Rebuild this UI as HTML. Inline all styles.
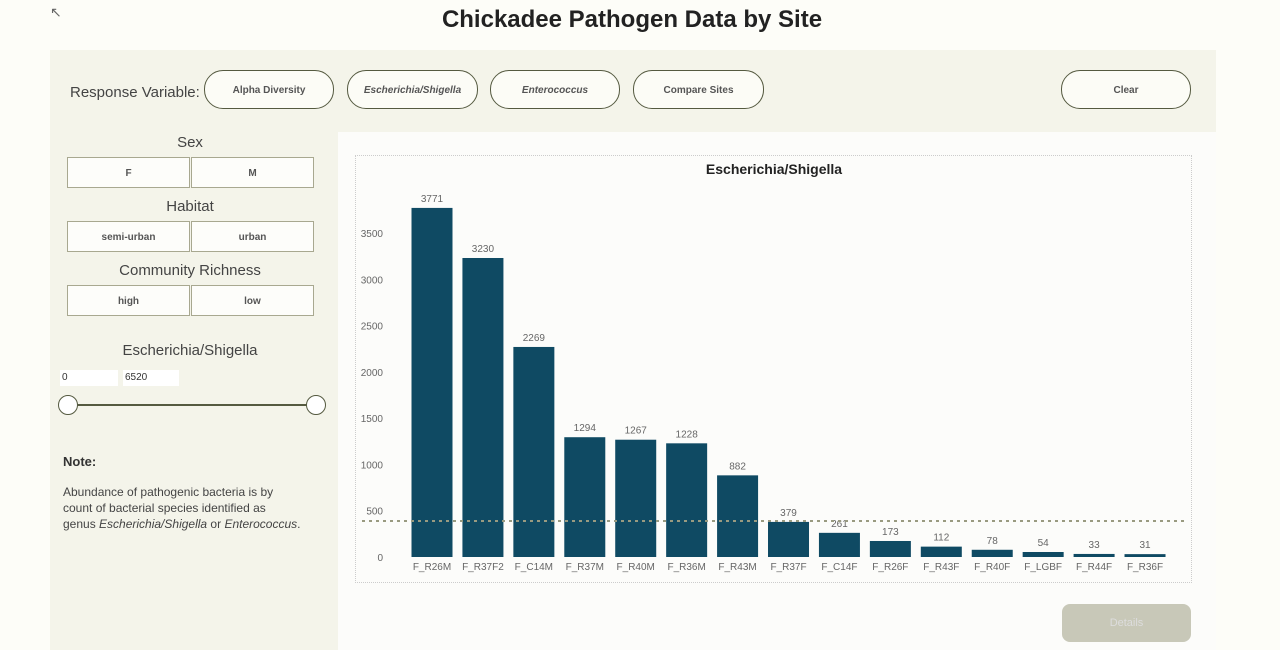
<!DOCTYPE html>
<html><head><meta charset="utf-8"><style>
body{margin:0;width:1280px;height:650px;background:#fdfdf8;font-family:"Liberation Sans",sans-serif;position:relative;overflow:hidden;color:#333}
.abs{position:absolute}
.pill{position:absolute;top:70px;height:39px;border:1.5px solid #555a40;border-radius:19px;background:#fcfcf6;font-size:10px;font-weight:bold;color:#555;display:flex;align-items:center;justify-content:center;box-sizing:border-box;padding-top:2px}
.btn{position:absolute;height:31px;border:1.5px solid #a8a890;background:#fdfdfa;font-size:10px;font-weight:bold;color:#555;display:flex;align-items:center;justify-content:center;box-sizing:border-box;width:123px;padding-top:2px}
.lbl{position:absolute;width:250px;left:65px;text-align:center;font-size:15px;color:#444}
</style></head><body>
<div class="abs" style="left:0;width:1264px;top:6px;text-align:center;font-size:24px;font-weight:bold;color:#222">Chickadee Pathogen Data by Site</div>
<div class="abs" style="left:50px;top:4px;font-size:14px;color:#666">↖</div>
<div class="abs" style="left:50px;top:50px;width:1166px;height:600px;background:#f4f4ea"></div>
<div class="abs" style="left:70px;top:84px;font-size:15px;color:#444">Response Variable:</div>
<div class="pill" style="left:204px;width:130px">Alpha Diversity</div>
<div class="pill" style="left:347px;width:131px;font-style:italic">Escherichia/Shigella</div>
<div class="pill" style="left:490px;width:130px;font-style:italic">Enterococcus</div>
<div class="pill" style="left:633px;width:131px">Compare Sites</div>
<div class="pill" style="left:1061px;width:130px">Clear</div>
<div class="lbl" style="top:134px">Sex</div>
<div class="btn" style="left:67px;top:157px">F</div>
<div class="btn" style="left:191px;top:157px">M</div>
<div class="lbl" style="top:198px">Habitat</div>
<div class="btn" style="left:67px;top:221px">semi-urban</div>
<div class="btn" style="left:191px;top:221px">urban</div>
<div class="lbl" style="top:262px">Community Richness</div>
<div class="btn" style="left:67px;top:285px">high</div>
<div class="btn" style="left:191px;top:285px">low</div>
<div class="lbl" style="top:342px;left:65px">Escherichia/Shigella</div>
<div class="abs" style="left:60px;top:370px;width:56px;height:16px;background:#fff;font-size:10px;padding-left:2px;line-height:16px">0</div>
<div class="abs" style="left:123px;top:370px;width:54px;height:16px;background:#fff;font-size:10px;padding-left:2px;line-height:16px">6520</div>
<div class="abs" style="left:68px;top:404px;width:248px;height:2px;background:#555a40"></div>
<div class="abs" style="left:58px;top:395px;width:18px;height:18px;border:1.5px solid #555a40;border-radius:50%;background:#fff"></div>
<div class="abs" style="left:306px;top:395px;width:18px;height:18px;border:1.5px solid #555a40;border-radius:50%;background:#fff"></div>
<div class="abs" style="left:63px;top:454px;font-size:13px;font-weight:bold">Note:</div>
<div class="abs" style="left:63px;top:484px;width:250px;font-size:12px;line-height:16px;color:#444">Abundance of pathogenic bacteria is by<br>count of bacterial species identified as<br>genus <i>Escherichia/Shigella</i> or <i>Enterococcus</i>.</div>
<div class="abs" style="left:338px;top:132px;width:878px;height:518px;background:#fcfcfa"></div>
<div class="abs" style="left:355px;top:155px;width:835px;height:426px;border:1px dotted #ccc"></div>
<div class="abs" style="left:1062px;top:604px;width:129px;height:38px;border-radius:8px;background:#c8c8b8;color:#ddd;font-size:11px;display:flex;align-items:center;justify-content:center">Details</div>
<svg class="abs" style="left:0;top:0" width="1280" height="650">
<text x="774" y="174" text-anchor="middle" font-size="14" font-weight="bold" fill="#222" font-family="Liberation Sans">Escherichia/Shigella</text>
<g id="g"></g></svg>
<script>
const categories=["F_R26M","F_R37F2","F_C14M","F_R37M","F_R40M","F_R36M","F_R43M","F_R37F","F_C14F","F_R26F","F_R43F","F_R40F","F_LGBF","F_R44F","F_R36F"];
const values=[3771,3230,2269,1294,1267,1228,882,379,261,173,112,78,54,33,31];
const yTicks=[0,500,1000,1500,2000,2500,3000,3500];
const refValue=389;
const g=document.getElementById('g');const NS='http://www.w3.org/2000/svg';
const y=v=>557-v*(324/3500);const x=i=>432+i*50.93;
function mk(t,a){const e=document.createElementNS(NS,t);for(const k in a)e.setAttribute(k,a[k]);g.appendChild(e);return e;}
yTicks.forEach(t=>{const e=mk('text',{x:383,y:y(t)+4,'text-anchor':'end','font-size':10,fill:'#666','font-family':'Liberation Sans'});e.textContent=t;

});
values.forEach((v,i)=>{const r=mk('rect',{x:x(i)-20.5,y:y(v),width:41,height:557-y(v),fill:'#0f4a63'});


const l=mk('text',{x:x(i),y:y(v)-6,'text-anchor':'middle','font-size':10,fill:'#666','font-family':'Liberation Sans'});l.textContent=v;


const c=mk('text',{x:x(i),y:570,'text-anchor':'middle','font-size':10,fill:'#666','font-family':'Liberation Sans'});c.textContent=categories[i];

});
const ln=mk('line',{x1:362,x2:1188,y1:y(refValue),y2:y(refValue),stroke:'#999a80','stroke-width':2,'stroke-dasharray':'3 4'});


</script>
</body></html>
